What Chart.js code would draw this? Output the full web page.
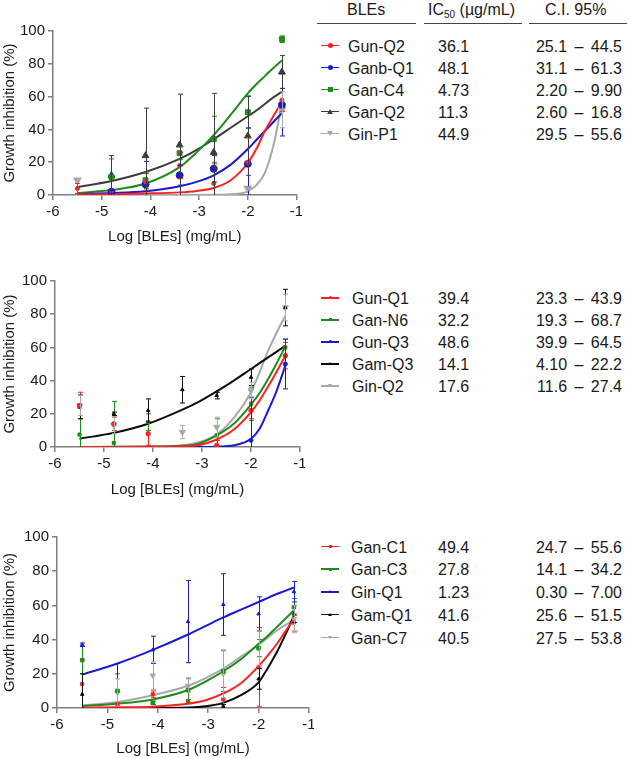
<!DOCTYPE html>
<html>
<head>
<meta charset="utf-8">
<script src="https://cdn.jsdelivr.net/npm/chart.js@4.4.0/dist/chart.umd.min.js"></script>
<style>
  body { margin: 0; background: #fff; font-family: "Liberation Sans", Arial, sans-serif; }
  #wrap { position: relative; width: 628px; height: 758px; overflow: hidden; }
  canvas { position: absolute; }
  .t { position: absolute; font-size: 16px; line-height: 18px; color: #1a1a1a; white-space: nowrap; }
  .ci { word-spacing: 3px; text-align: right; }
  .rule { position: absolute; height: 1.5px; background: #444; }
  .key { position: absolute; width: 18px; height: 1.5px; }
  .key i { position: absolute; display: block; }
</style>
</head>
<body>
<div id="wrap">
  <canvas id="c1"></canvas>
  <canvas id="c2"></canvas>
  <canvas id="c3"></canvas>
</div>
<script>
// log10 of the tested concentrations (mg/mL) and the x positions where the fitted curves are read
const doseLog = [-5.5, -4.8, -4.1, -3.4, -2.7, -2.0, -1.3];
const fitLog = [-5.5, -4.8, -4.1, -3.4, -3.05, -2.7, -2.35, -2.0, -1.825, -1.65, -1.475, -1.3];

// top panel
const p1Names = ['Gun-Q2', 'Ganb-Q1', 'Gan-C4', 'Gan-Q2', 'Gin-P1'];
const p1IC50 = ['36.1', '48.1', '4.73', '11.3', '44.9'];
const p1CI = ['25.1 – 44.5', '31.1 – 61.3', '2.20 – 9.90', '2.60 – 16.8', '29.5 – 55.6'];
const p1Mean = [
  [4, 1, 8, 18, 7, 20, 58],
  [null, 2, 6.5, 12, 16, 19, 55],
  [null, 11, 9, 25.5, 34, 50.5, 95],
  [null, 12, 24, 30.5, 26, 36, 75],
  [9, null, null, null, null, 4, 52]
];
const p1Sd = [
  [3, 1, 5, 8, 12, 15, 7],
  [0, 1, 14, 6, 8, 22, 19],
  [0, 11, 5, 4, 14, 10, 2],
  [0, 12, 29, 31, 36, 24, 10],
  [0, 0, 0, 0, 0, 1, 11]
];
const p1Fit = [
  [0.3, 0.5, 0.9, 1.6, 2.5, 4.3, 9, 19.5, 28, 39, 48, 57],
  [0.6, 1.2, 2.3, 5.3, 8, 12, 18.5, 28, 33.5, 39, 44.5, 50],
  [1.2, 3, 7, 17, 26, 36.5, 49, 62, 67.5, 72.5, 77.5, 82],
  [4.8, 8.5, 14, 22, 27.5, 34, 41, 48, 51.5, 55.5, 59.5, 63],
  [0, 0, 0, 0, 0, 0.1, 0.4, 2.2, 6, 13.5, 30, 56]
];

// middle panel
const p2Names = ['Gun-Q1', 'Gan-N6', 'Gun-Q3', 'Gam-Q3', 'Gin-Q2'];
const p2IC50 = ['39.4', '32.2', '48.6', '14.1', '17.6'];
const p2CI = ['23.3 – 43.9', '19.3 – 68.7', '39.9 – 64.5', '4.10 – 22.2', '11.6 – 27.4'];
const p2Mean = [
  [25, 14, 8, null, 1, 22, 55],
  [7.5, 2.5, 15, null, 7, 26, 60],
  [null, null, null, null, null, 4, 50],
  [24, 20, 22, 34.5, 31, 42, 84],
  [25, 13, null, 9, 12, 34, 84]
];
const p2Sd = [
  [8, 4, 7, 0, 3, 5, 8],
  [24, 25, 5, 0, 10, 10, 5],
  [0, 0, 0, 0, 0, 26, 15],
  [7, 1, 7, 8, 2, 5, 11],
  [6, 5, 0, 4, 6, 5, 8]
];
const p2Fit = [
  [0, 0, 0.1, 0.4, 1.2, 4.5, 10.5, 21, 28, 36.5, 45.5, 55],
  [0, 0.1, 0.2, 0.7, 2.2, 7, 14, 25.5, 32.5, 41, 50.5, 60.5],
  [0, 0, 0, 0, 0, 0.2, 1, 5, 11, 22, 34, 49],
  [5, 8.5, 14, 22.5, 27.5, 33.5, 40, 47, 50.5, 54, 57.5, 61],
  [0, 0.1, 0.3, 1, 3, 7.5, 17.5, 33, 45, 58, 69, 79]
];

// bottom panel
const p3Names = ['Gan-C1', 'Gan-C3', 'Gin-Q1', 'Gam-Q1', 'Gan-C7'];
const p3IC50 = ['49.4', '27.8', '1.23', '41.6', '40.5'];
const p3CI = ['24.7 – 55.6', '14.1 – 34.2', '0.30 – 7.00', '25.6 – 51.5', '27.5 – 53.8'];
const p3Mean = [
  [14, 2, 8, 4, 5, 24, 50],
  [28, 10, 3, 10.5, 21.5, 35, 59],
  [37, 10, 34, 50.5, 60.5, 55, 68],
  [8, null, null, null, 1, 17, 55],
  [null, 9, 19, 13, 20, 35, 52]
];
const p3Sd = [
  [14, 1, 2, 1, 7, 23, 5],
  [8, 10, 1, 7, 12, 5, 5],
  [1, 16, 8, 24, 18, 10, 6],
  [12, 0, 0, 0, 1, 6, 5],
  [0, 8, 8, 4, 14, 10, 8]
];
const p3Fit = [
  [0.2, 0.4, 0.8, 2.5, 4.5, 8.5, 14.5, 24.5, 30.5, 37, 44.5, 52],
  [1.2, 2.5, 5, 10.5, 15.5, 21.5, 28.5, 37.5, 42, 47, 52, 57],
  [19.5, 26, 34, 43, 48, 53, 57.5, 62, 64.3, 66.5, 68.5, 70.5],
  [0, 0, 0.05, 0.3, 1, 3, 7.5, 15, 23, 32, 42.5, 54],
  [1.5, 3.5, 7.5, 13, 17.5, 23, 30, 37, 41, 45, 48.5, 51]
];

const xTicks = [-6, -5, -4, -3, -2, -1];
const yTicks = [0, 20, 40, 60, 80, 100];

const RED = '#ff1f1f', BLUE = '#1a1ad0', GREEN = '#1c8c1c', GREY = '#a8a8a8';
const AXIS = '#808080';

Chart.defaults.font.family = '"Liberation Sans", Arial, sans-serif';
Chart.defaults.color = '#1a1a1a';

const errorBars = {
  id: 'errorBars',
  afterDatasetsDraw(chart) {
    const { ctx, scales: { x, y } } = chart;
    chart.data.datasets.forEach(ds => {
      if (!ds.sd) return;
      ctx.save();
      ctx.strokeStyle = ds.borderColor;
      ctx.lineWidth = 1;
      ds.data.forEach((p, i) => {
        const s = ds.sd[i];
        if (!s) return;
        const px = Math.round(x.getPixelForValue(p.x)) + 0.5;
        const top = y.getPixelForValue(p.y + s);
        const bot = y.getPixelForValue(Math.max(p.y - s, 0));
        ctx.beginPath();
        ctx.moveTo(px, top); ctx.lineTo(px, bot);
        ctx.moveTo(px - 2.5, top); ctx.lineTo(px + 2.5, top);
        if (p.y - s > 0) { ctx.moveTo(px - 2.5, bot); ctx.lineTo(px + 2.5, bot); }
        ctx.stroke();
      });
      ctx.restore();
    });
  }
};

function makePanel(id, g, names, colors, shapes, sizes, means, sds, fits) {
  const cv = document.getElementById(id);
  cv.width = g.w; cv.height = g.h;
  cv.style.left = '0px'; cv.style.top = g.top + 'px';

  const datasets = [];
  names.forEach((n, k) => {
    datasets.push({
      label: n + ' fit',
      data: fitLog.map((x, i) => ({ x: x, y: fits[k][i] })),
      showLine: true,
      borderColor: colors[k],
      borderWidth: 2,
      pointRadius: 0,
      cubicInterpolationMode: 'monotone',
      order: 2
    });
  });
  names.forEach((n, k) => {
    const pts = [], err = [];
    doseLog.forEach((x, i) => {
      if (means[k][i] == null) return;
      pts.push({ x: x, y: means[k][i] });
      err.push(sds[k][i]);
    });
    const down = shapes[k] === 'down';
    datasets.push({
      label: n,
      data: pts,
      sd: err,
      backgroundColor: colors[k],
      borderColor: colors[k],
      pointStyle: down ? 'triangle' : shapes[k],
      rotation: down ? 180 : 0,
      pointRadius: sizes[k],
      borderWidth: 1,
      order: 1
    });
  });

  return new Chart(cv, {
    type: 'scatter',
    data: { datasets },
    options: {
      responsive: false,
      animation: false,
      layout: { padding: { top: g.padTop, left: 0, right: 0, bottom: 0 } },
      plugins: { legend: { display: false }, tooltip: { enabled: false } },
      scales: {
        x: {
          type: 'linear', min: -6, max: -1,
          afterBuildTicks: s => { s.ticks = xTicks.map(v => ({ value: v })); },
          afterFit: s => { s.height = g.xH; s.paddingLeft = 0; s.paddingRight = 0; },
          ticks: { font: { size: 15 }, padding: 3, color: '#1a1a1a' },
          grid: { drawOnChartArea: false, drawTicks: true, tickLength: 5, color: AXIS, lineWidth: 1.5 },
          border: { color: AXIS, width: 1.5 },
          title: { display: true, text: 'Log [BLEs] (mg/mL)', font: { size: 15 }, padding: { top: 0, bottom: g.titlePad } }
        },
        y: {
          type: 'linear', min: 0, max: 100,
          afterBuildTicks: s => { s.ticks = yTicks.map(v => ({ value: v })); },
          afterFit: s => { s.width = g.yW; s.paddingTop = 0; s.paddingBottom = 0; },
          ticks: { font: { size: 15 }, padding: 3, color: '#1a1a1a' },
          grid: { drawOnChartArea: false, drawTicks: true, tickLength: 5, color: AXIS, lineWidth: 1.5 },
          border: { color: AXIS, width: 1.5 },
          title: { display: true, text: 'Growth inhibition (%)', font: { size: 15 }, padding: { top: 1, bottom: 0 } }
        }
      }
    },
    plugins: [errorBars]
  });
}

function keyMark(el, shape, color, small) {
  const i = document.createElement('i');
  const s = small ? 3 : 5;
  if (shape === 'circle' || shape === 'rect') {
    i.style.width = s + 'px'; i.style.height = s + 'px';
    i.style.left = (9 - s / 2) + 'px'; i.style.top = (0.75 - s / 2) + 'px';
    i.style.background = color;
    if (shape === 'circle') i.style.borderRadius = '50%';
  } else {
    const h = small ? 3 : 5;
    i.style.width = '0'; i.style.height = '0';
    i.style.left = (9 - h / 2 - 0.5) + 'px'; i.style.top = (0.75 - h / 2) + 'px';
    i.style.borderLeft = (h / 2 + 0.5) + 'px solid transparent';
    i.style.borderRight = (h / 2 + 0.5) + 'px solid transparent';
    if (shape === 'down') i.style.borderTop = h + 'px solid ' + color;
    else i.style.borderBottom = h + 'px solid ' + color;
  }
  el.appendChild(i);
}

function addText(txt, left, cy, cls) {
  const d = document.createElement('div');
  d.className = 't' + (cls ? ' ' + cls : '');
  d.innerHTML = txt;
  d.style.top = (cy - 9) + 'px';
  if (cls === 'ci') d.style.right = left + 'px'; else d.style.left = left + 'px';
  document.getElementById('wrap').appendChild(d);
}

function makeTable(t, names, ic50, ci, colors, shapes, small) {
  names.forEach((n, k) => {
    const cy = t.y0 + k * t.step;
    const key = document.createElement('div');
    key.className = 'key';
    key.style.left = '321px'; key.style.top = (cy - 2) + 'px';
    key.style.background = colors[k];
    keyMark(key, shapes[k], colors[k], small);
    document.getElementById('wrap').appendChild(key);
    addText(n, t.nameX, cy);
    addText(ic50[k], 438, cy);
    addText(ci[k], 6, cy, 'ci');
  });
}

// header
addText('BLEs', 347, 10);
addText('IC<sub style="font-size:10px;vertical-align:-3px">50</sub> (µg/mL)', 428, 10);
addText('C.I. 95%', 545, 10);
[[317, 99], [424, 98], [529, 98]].forEach(([l, w]) => {
  const r = document.createElement('div');
  r.className = 'rule';
  r.style.left = l + 'px'; r.style.width = w + 'px'; r.style.top = '22.5px';
  document.getElementById('wrap').appendChild(r);
});

const c1 = [RED, BLUE, GREEN, '#3c3c3c', GREY];
const c2 = [RED, GREEN, BLUE, '#0a0a0a', GREY];
const c3 = [RED, GREEN, BLUE, '#0a0a0a', GREY];

makePanel('c1', { top: 0, w: 302, h: 250, padTop: 31, yW: 53, xH: 55, titlePad: 4 },
  p1Names, c1, ['circle', 'circle', 'rect', 'triangle', 'down'], [2, 3.5, 3.5, 4, 4.5], p1Mean, p1Sd, p1Fit);
makePanel('c2', { top: 250, w: 305, h: 250, padTop: 31, yW: 55, xH: 53, titlePad: 1 },
  p2Names, c2, ['circle', 'rect', 'circle', 'triangle', 'down'], [2.2, 2.2, 2, 2, 3.5], p2Mean, p2Sd, p2Fit);
makePanel('c3', { top: 505, w: 314, h: 253, padTop: 32, yW: 57, xH: 50, titlePad: 0 },
  p3Names, c3, ['rect', 'rect', 'triangle', 'triangle', 'down'], [2.2, 2.5, 2, 2, 3], p3Mean, p3Sd, p3Fit);

makeTable({ y0: 46.5, step: 22, nameX: 348 }, p1Names, p1IC50, p1CI, c1, ['circle', 'circle', 'rect', 'triangle', 'down'], false);
makeTable({ y0: 299, step: 22, nameX: 352 }, p2Names, p2IC50, p2CI, c2, ['circle', 'rect', 'circle', 'triangle', 'down'], true);
makeTable({ y0: 547.5, step: 22.75, nameX: 351 }, p3Names, p3IC50, p3CI, c3, ['rect', 'rect', 'triangle', 'triangle', 'down'], true);
</script>
</body>
</html>
